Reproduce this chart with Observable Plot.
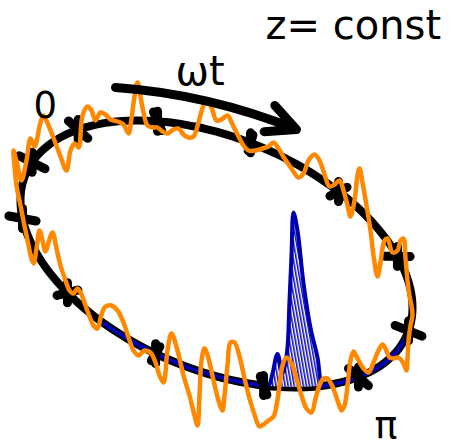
<!DOCTYPE html>
<html><head><meta charset="utf-8">
<script src="https://cdn.jsdelivr.net/npm/d3@7"></script>
<script src="https://cdn.jsdelivr.net/npm/@observablehq/plot@0.6"></script>
<style>html,body{margin:0;padding:0;background:#fff;} svg{display:block}</style>
</head><body><div id="chart"></div>
<script>
// ---- ring z = const, seen in perspective (picture units) ----
const ringCenter = [216, 253.5];
const ringCosTerm = [196, 53.5];   // x, y coefficients of cos(t)
const ringSinTerm = [0, 122.3];    // x, y coefficients of sin(t)

// phases (deg) of the "+" markers on the ring
const crossPhase = [11.5, 43.6, 76.1, 108.1, 139.5, 171.8, 199.8, 225.1, 252.5, 280, 308.5, 337.4];
const crossRadial = 0.07;   // relative half-length of radial arm
const crossZ = 10;          // half-length of z arm

// orange signal traced around the ring (clockwise from lower left)
const orangeX = [33,25,20,16,14,13,17,21,26,30,34,40,43,48,54,60,66,70,74,78,82,87,91,95,100,105,110,117,123,128,131,134,137,140,143,147,152,157,162,167,173,178,183,188,193,198,203,207,211,216,221,227,232,237,243,248,255,262,268,273,278,284,291,298,303,308,314,319,324,329,334,339,343,347,350,354,357,359,362,366,370,373,377,380,384,387,392,397,400,403,405,407,409,411,412,410,408,407,406,403,398,393,389,385,382,378,373,368,363,357,353,350,347,344,341,337,332,327,323,319,315,311,306,301,296,291,286,282,279,276,273,268,263,259,254,249,244,239,234,230,227,224,222,218,213,208,204,201,199,197,194,189,183,177,171,167,163,159,155,150,144,138,133,128,123,117,111,105,101,97,93,89,85,81,77,73,69,65,60,56,52,48,45,42,39,36];
const orangeY = [263,230,205,185,165,150,165,180,160,138,146,122,115,125,140,156,170,150,143,147,115,106,110,120,112,114,119,121,124,133,118,96,82,96,112,125,127,127,131,133,129,128,134,137,136,122,105,100,107,120,119,115,124,134,145,150,150,148,146,142,148,158,168,177,173,160,154,160,174,186,184,180,190,205,216,200,175,168,182,205,230,255,276,262,240,238,252,250,240,238,258,280,295,305,315,325,340,358,370,363,357,358,357,348,344,350,362,372,368,358,351,360,385,405,410,400,386,378,378,385,398,412,408,395,378,363,357,365,385,405,416,420,424,426,414,398,378,356,342,342,365,395,410,400,380,358,348,360,395,425,415,395,375,350,333,350,382,375,362,352,350,355,350,337,322,310,305,306,314,328,325,316,305,294,288,293,290,280,265,248,232,242,251,240,230,248];

// blue pulse (x along ring bottom, height above ring)
const pulseX = [268,272,277,282,284,287,289,291,293,297,303,310,317,322];
const pulseHeight = [0,13,33,14,20,40,87,132,175,157,104,59,29,0];
const blueFrom = 9, blueTo = 126; // phase span (deg) of blue trace

// omega-t arrow
const arrowFrom = [115, 87];
const arrowTo = [296, 129];

// labels
const labelText = ["z= const", "ωt", "0", "π"];
const labelX = [265, 175, 33, 374];
const labelY = [38, 84, 117, 437];
const labelSize = [40, 40, 37, 38];

// ---- geometry ----
const [cx, cy] = ringCenter;
const R = (t) => {
  const r = t * Math.PI / 180;
  return [cx + ringCosTerm[0] * Math.cos(r) + ringSinTerm[0] * Math.sin(r),
          cy + ringCosTerm[1] * Math.cos(r) + ringSinTerm[1] * Math.sin(r)];
};
const ring = d3.range(0, 360, 3).map(t => { const [x, y] = R(t); return {x, y}; });
const phaseOfBottomX = x => Math.acos((x - cx) / ringCosTerm[0]) * 180 / Math.PI;
const pulse = pulseX.map((x, i) => {
  const t = phaseOfBottomX(x); const [, yb] = R(t);
  return {t, x, yb, y: yb - pulseHeight[i]};
}).sort((a, b) => a.t - b.t);
const ringPart = (a, b) => d3.range(a, b, 1.5).map(t => { const [x, y] = R(t); return {x, y}; });
const blueLine = [
  ...ringPart(blueFrom, pulse[0].t - 0.5),
  ...pulse.map(d => ({x: d.x, y: d.y})),
  ...ringPart(pulse[pulse.length - 1].t + 1, blueTo)
];
const crosses = crossPhase.flatMap(t => {
  const [x, y] = R(t); const dx = x - cx, dy = y - cy;
  return [
    {x1: cx + dx * (1 - crossRadial), y1: cy + dy * (1 - crossRadial), x2: cx + dx * (1 + crossRadial), y2: cy + dy * (1 + crossRadial)},
    {x1: x, y1: y - crossZ, x2: x, y2: y + crossZ}
  ];
});
const orange = orangeX.map((x, i) => ({x, y: orangeY[i]}));
const labels = labelText.map((text, i) => ({text, x: labelX[i], y: labelY[i], size: labelSize[i]}));
const arrow = [{x1: arrowFrom[0], y1: arrowFrom[1], x2: arrowTo[0], y2: arrowTo[1]}];

const BLUE = "#0000b0", ORANGE = "#ff8800";

const svg = Plot.plot({
  width: 453, height: 448, margin: 0,
  x: {domain: [0, 453], axis: null},
  y: {domain: [0, 448], reverse: true, axis: null},
  style: {background: "white", fontFamily: "DejaVu Sans"},
  marks: [
    Plot.line(ring, {x: "x", y: "y", curve: "catmull-rom-closed", stroke: "black", strokeWidth: 8}),
    Plot.area(pulse, {x1: "x", y1: "yb", y2: "y", curve: "catmull-rom", fill: "url(#hatch)"}),
    Plot.line(blueLine, {x: "x", y: "y", curve: "catmull-rom", stroke: BLUE, strokeWidth: 4, strokeLinejoin: "round"}),
    Plot.link(crosses, {x1: "x1", y1: "y1", x2: "x2", y2: "y2", stroke: "black", strokeWidth: 9, strokeLinecap: "round"}),
    Plot.line(orange, {x: "x", y: "y", curve: "catmull-rom-closed", stroke: ORANGE, strokeWidth: 4.5, strokeLinejoin: "round"}),
    Plot.arrow(arrow, {x1: "x1", y1: "y1", x2: "x2", y2: "y2", bend: 9, stroke: "black", strokeWidth: 9, headLength: 5.4, headAngle: 52, strokeLinecap: "round"}),
    Plot.text(labels, {x: "x", y: "y", text: "text", fontSize: d => d.size, textAnchor: "start", lineAnchor: "bottom", fill: "black", fontFamily: "DejaVu Sans"})
  ]
});

const defs = d3.select(svg).insert("defs", ":first-child");
const pat = defs.append("pattern").attr("id", "hatch").attr("patternUnits", "userSpaceOnUse")
  .attr("width", 3).attr("height", 12).attr("patternTransform", "rotate(-10)");
pat.append("rect").attr("width", 3).attr("height", 12).attr("fill", "white");
pat.append("line").attr("x1", 0.8).attr("x2", 0.8).attr("y1", -1).attr("y2", 13)
  .attr("stroke", BLUE).attr("stroke-width", 1.5);

document.getElementById("chart").appendChild(svg);
</script>
</body></html>
